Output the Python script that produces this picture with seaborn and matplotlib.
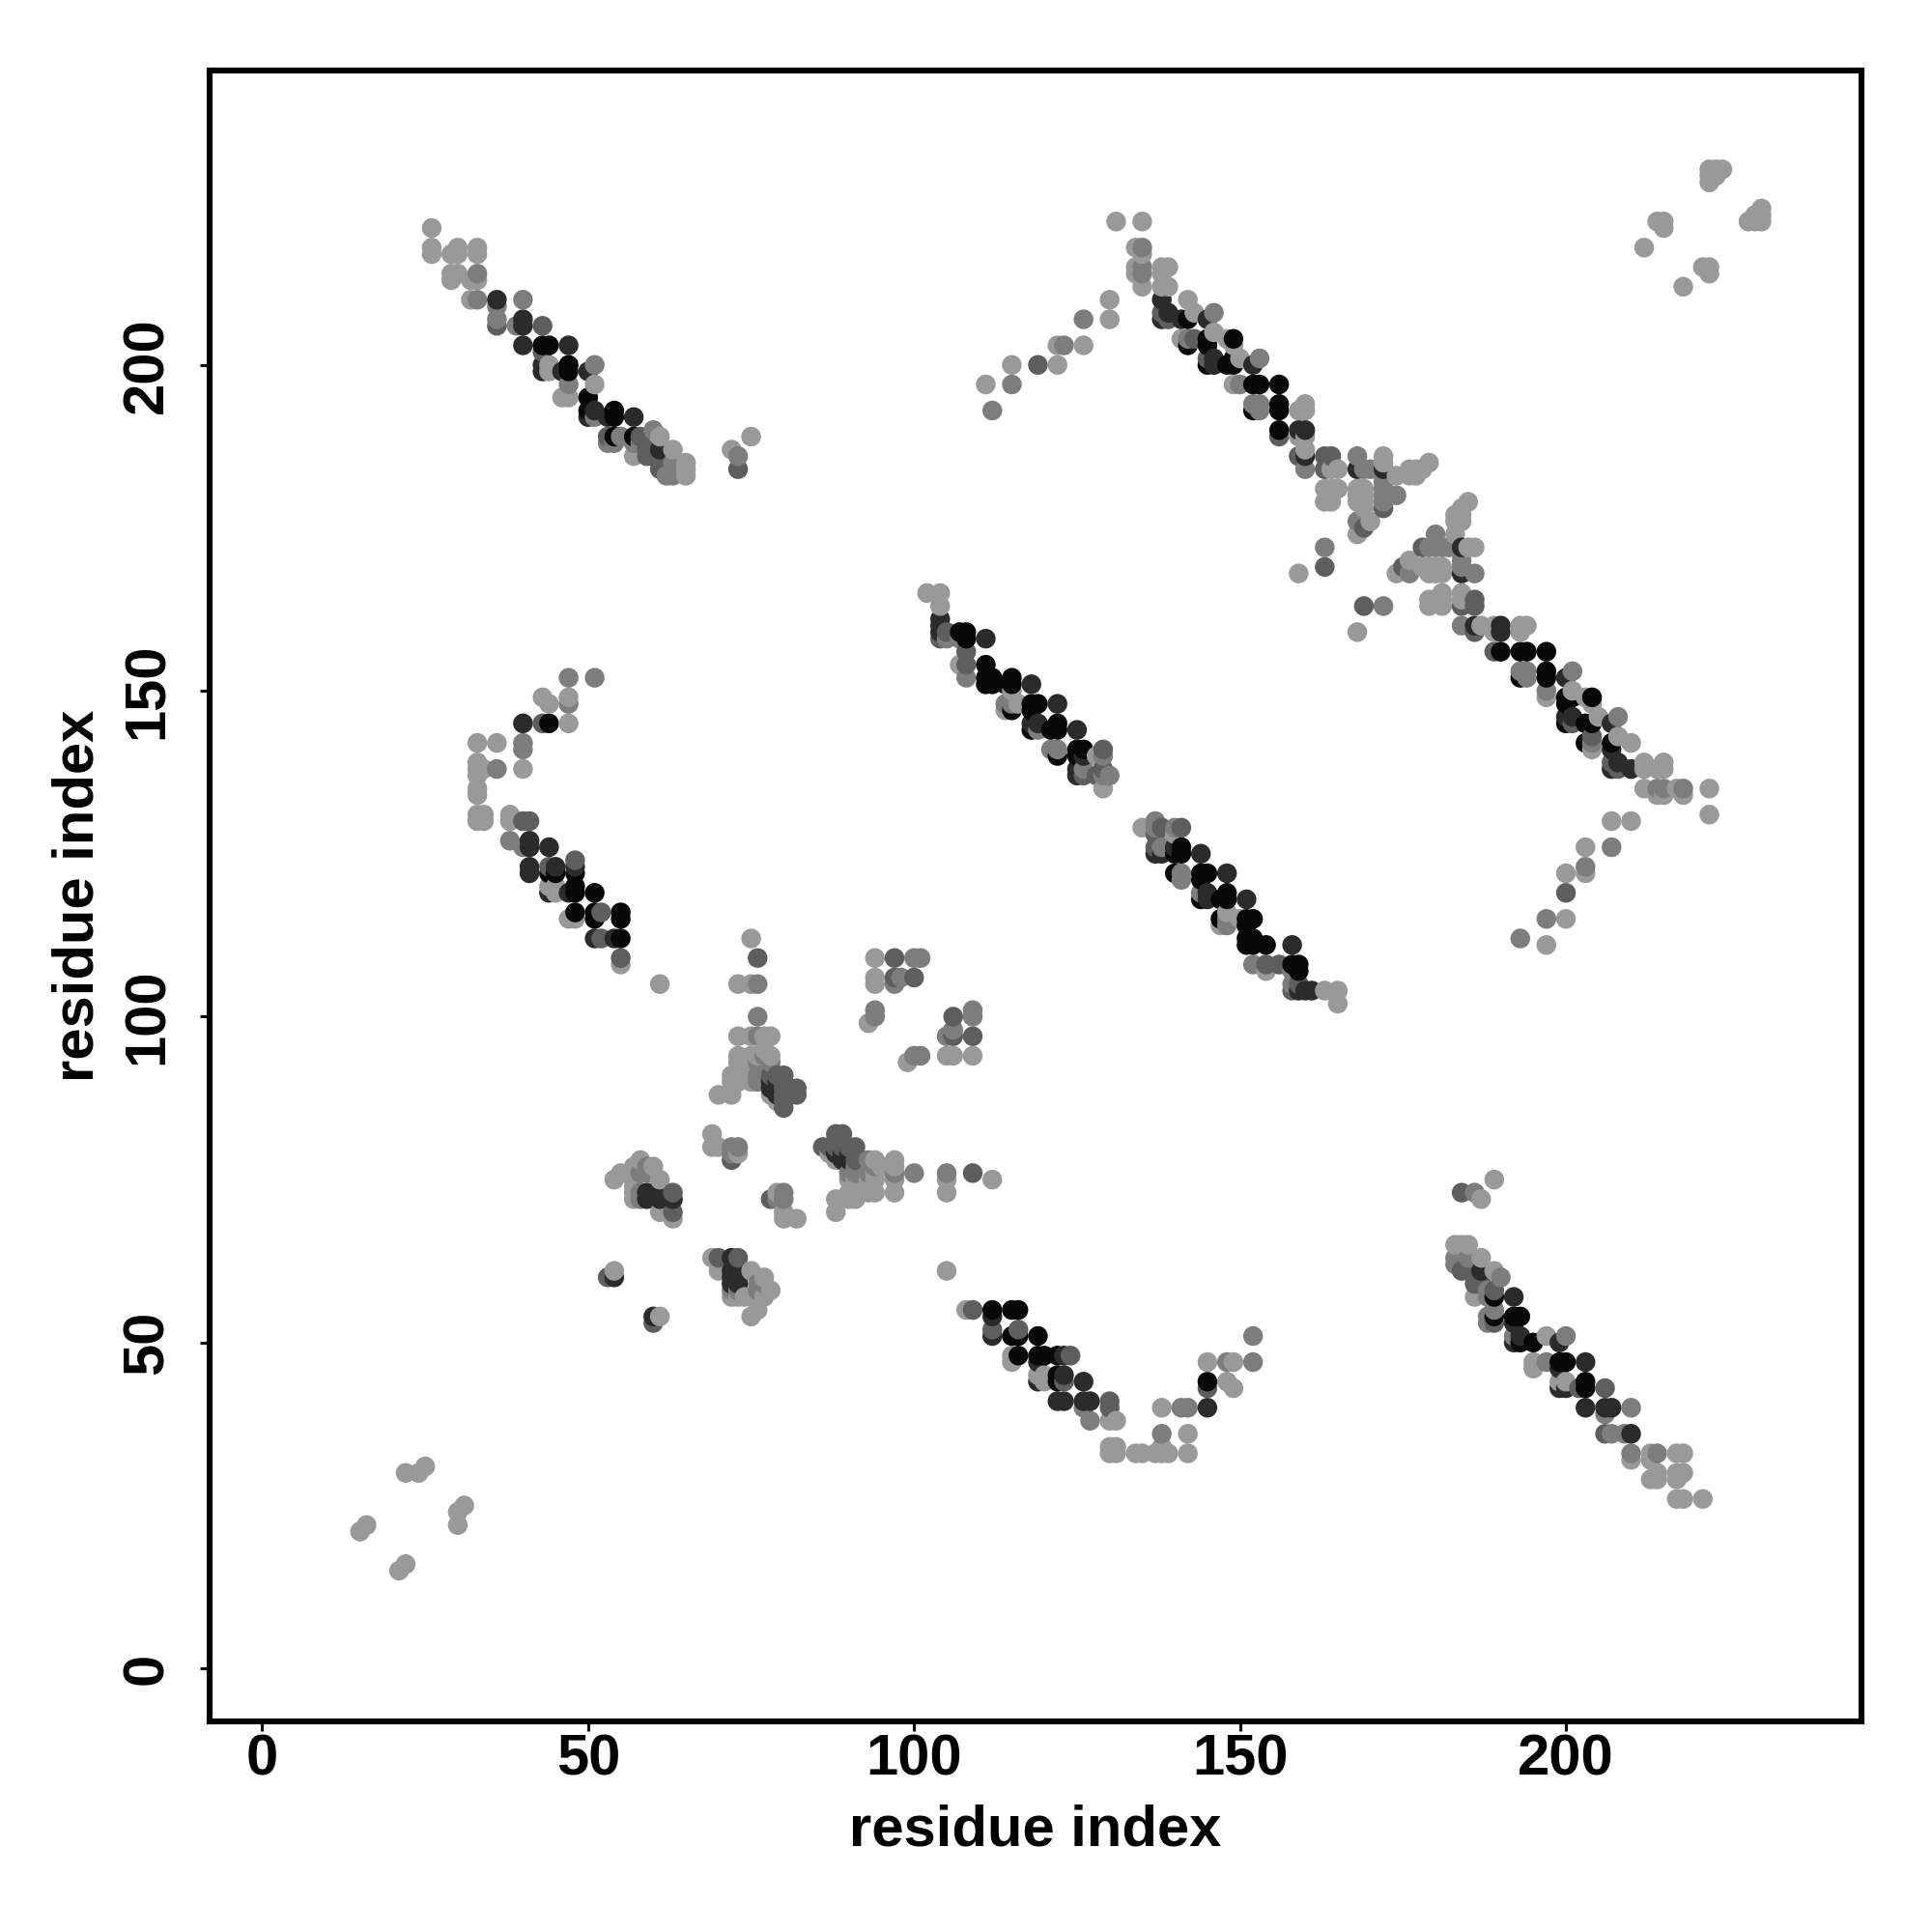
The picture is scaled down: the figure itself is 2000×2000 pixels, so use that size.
import pandas as pd
import numpy as np
import matplotlib
matplotlib.use('Agg')
import matplotlib.pyplot as plt
import seaborn as sns

# contacts as (i, j) with i < j, map is symmetric so the other half is mirrored below
# grouped by the grey level of the dot
light_pairs = [
    (15,21),(16,22),(22,30),(24,30),(25,31),
    (26,221),(26,218),(26,217),(29,217),(30,218),(30,217),(33,218),(33,217),(29,214),(30,214),(29,213),
    (32,213),(33,213),(32,210),(44,200),(44,199),(51,197),(46,195),(47,195),(61,189),(63,187),(57,186),
    (65,185),(65,184),(65,183),(72,187),(75,189),
    (131,222),(135,222),(134,218),(135,217),(134,215),(134,214),(135,212),(138,215),(139,215),(138,214),
    (138,212),(139,212),(130,210),(130,207),(122,203),(126,203),(115,200),(122,200),(111,197),(142,210),
    (143,208),(141,204),(146,205),(148,204),(150,201),(149,203),(149,197),(160,194),(160,193),(159,193),
    (159,189),(160,189),(160,187),(165,184),(164,184),(163,181),(164,181),(165,181),(163,179),(164,179),
    (172,186),(172,185),(174,183),(176,184),(176,183),(177,184),(177,183),(178,184),(179,185),
    (168,181),(169,181),(168,180),(169,180),(168,179),(169,179),(169,178),(170,176),(168,174),(159,168),(168,159),
    (212,218),(214,222),(215,222),(215,221),(222,228),(222,229),(222,230),(223,229),(223,230),(224,230),
    (102,165),(104,165),(104,163),(107,154),(108,154),(116,148),(114,147),(118,147 ),(121,141),(122,140),
    (128,140),(129,135),(135,129),(140,129),(140,128),(147,114),(150,115),(154,107),(163,104),(165,104),(165,102),
    (47,152),(43,149),(44,148),(47,149),(47,145),(33,142),(36,142),(33,139),(33,138),(40,138),(33,137),(33,135),
    (33,134),(33,131),(34,131),(33,130),(34,130),(38,131),(38,130),(40,130),(44,120),(45,120),(45,119),(47,115),
    (48,115),(52,116),(55,108),(61,105),
    (75,112),(73,105),(75,105),(76,105),(76,100),(73,97),(75,97),(76,97),(77,97),(78,97),(73,94),(73,93),(76,94),
    (78,94),(77,95),(72,91),(73,91),(72,90),(73,90),(75,91),(75,90),(70,88),(72,88),(80,86),(79,87),(78,88),
    (69,82),(69,80),(70,80),(73,79),(75,94),(75,93),
    (54,75),(55,76),(57,75),(58,78),(60,77),(61,75),(57,74),(57,73),(57,72),(61,70),(63,70),(63,69),
    (70,61),(75,61),(77,60),(76,59),(78,58),(77,57),(72,57),(73,57),(75,57),(76,55),(75,54),
    (94,109),(94,106),(100,109),(93,99),(94,100),(99,93),(101,94),(105,94),(106,94),(109,94),(100,76),(105,75),(105,73),(112,75),(105,61),
    (93,78),(94,78),(93,76),(94,76),(97,78),(97,77),(97,75),(90,76),(90,75),(91,75),(93,73),(94,73),(91,73),(90,73),(91,72),(90,72),(88,72),(88,70),(97,73),
    (53,60),(54,61),(61,54),
    (108,55),(130,38),(131,38),(130,34),(131,34),(130,33),(131,33),(134,33),(135,33),(137,33),(138,33),(139,33),(138,34),
    (138,36),(142,36),(142,33),(138,40),(145,47),(148,47),(149,47),(148,44),(149,43),
]
mid_pairs = [
    (33,214),(33,210),(36,209),(36,207),(40,210),(39,206),(51,200),(47,197),(53,188),(54,188),(55,189),(60,190),
    (58,188),(57,188),(63,185),(63,183),(62,183),(73,186),(51,192),
    (135,218),(123,203),(115,197),(112,193),(126,207),(146,208),(142,204),(150,197),(152,194),(153,194),(153,193),
    (153,201),(135,215),(135,214),(160,184),(168,186),(169,184),(170,184),(172,183),(172,182),(172,181),(172,180),
    (172,179),(174,180),(168,176),(163,172),(172,163),
    (105,158),(108,156),(115,148),(115,147),(114,148),(119,144),(122,141),(126,138),(129,141),(129,137),(129,140),
    (137,130),(137,129),(138,126),(141,122),(141,121),(148,115),(148,114),(152,108),(156,108),(158,107),(159,108),
    (51,152),(47,148),(40,142),(40,141),(36,138),(41,130),(38,127),(40,126),(44,126),(44,119),(52,112),(55,109),
    (76,109),(76,100),(76,93),(78,93),(72,80),(72,79),(73,80),(76,90),(77,91),(80,88),
    (58,76),(59,77),(59,76),(61,73),(58,73),(58,72),(61,72),(63,73),
    (97,109),(101,109),(97,106),(98,106),(97,105),(94,101),(106,100),(109,101),(109,100),(105,97),(106,98),(109,97),(100,94),(105,76),(109,76),
    (91,78),(90,78),(91,76),(94,77),(97,76),
    (145,44),(141,40),(142,40),(130,41),(130,40),(152,47),(152,51),(112,52),
]
grey_pairs = [
    (36,206),(43,206),(61,185),(61,184),(59,187),(60,187),(59,186),(53,189),(73,184),(43,202),(58,189),
    (138,208),(139,207),(143,204),(145,201),(156,189),(159,186),(163,186),(163,184),(172,178),(163,169),(169,163),(169,175),
    (119,200),(164,186),
    (105,159),(107,159),(104,158),(126,137),(128,137),(125,140),(129,138),(138,129),(141,129),(137,126),(138,125),
    (156,108),(158,104),(159,104),(154,108),(159,108),(100,106),
    (40,130),(41,127),(44,123),(55,112),(52,112),(40,145),(44,122),
    (106,100),(106,97),(109,97),(109,76),(97,109),(100,106),
    (79,91),(80,91),(80,90),(82,89),(82,88),(80,89),(90,80),(91,80),(88,82),(89,82),(72,78),
    (78,91),(88,80),(86,80),(80,87),
    (63,72),(59,73),(54,60),(60,53),(70,63),(73,63),
    (109,55),(112,54),(116,52),(145,43),(124,48),(130,41),
]
dark_pairs = [
    (36,210),(40,207),(40,206),(40,203),(43,199),(43,200),(46,199),(50,199),(50,192),(51,193),(53,192),(57,192),(61,187),(47,203),
    (138,210),(138,207),(139,208),(141,207),(145,207),(146,201),(146,200),(152,200),(159,190),(160,190),(160,186),(168,184),(172,184),
    (104,161),(104,159),(111,158),(118,151),(122,148),(119,145),(118,145),(125,144),(125,138),(125,137),(126,141),
    (144,125),(145,122),(148,122),(145,119),(140,126),(151,118),(158,111),(160,104),(161,104),(144,118),(158,108),
    (40,145),(41,126),(41,123),(45,123),(48,123),(47,119),(51,119),(48,120),(51,112),(54,112),
    (72,63),(72,61),(73,61),(72,59),(73,59),(60,54),
    (78,89),(79,88),(78,90),(79,90),(79,89),(89,79),(88,79),
    (59,72),(60,73),(60,72),
    (116,55),(112,51),(145,40),(126,44),(119,44),(126,41),(122,41),(127,41),(73,60),
]
black_pairs = [
    (43,203),(44,203),(47,200),(47,199),(50,195),(50,193),(54,193),(54,192),(54,189),(57,189),
    (142,207),(142,203),(145,204),(145,203),(145,200),(148,200),(149,204),(149,201),(149,200),(152,197),(153,197),
    (156,197),(152,193),(156,194),(156,193),(156,190),
    (108,159),(108,158),(111,154),(111,152),(111,151),(112,152),(112,151),(114,151),(115,152),(115,151),(118,148),(119,148),
    (118,144),(121,144),(122,145),(122,144),(125,141),(140,125),(141,126),(140,122),(144,122),(147,118),(148,119),(148,118),
    (147,115),(151,115),(152,115),(151,114),(151,112),(151,111),(152,112),(152,111),(154,111),(159,107),
    (44,145),(48,119),(51,116),(51,115),(48,116),(55,112),(55,116),(55,115),
    (112,55),(115,51),(116,51),(119,51),(116,48),(119,48),(120,48),(122,48),(122,45),(122,44),
]
tick_values = [0, 50, 100, 150, 200]
axis_label = 'residue index'

grey_levels = {0.60: light_pairs, 0.49: mid_pairs, 0.37: grey_pairs, 0.17: dark_pairs, 0.03: black_pairs}

rows = []
for level, pairs in grey_levels.items():
    for a, b in pairs:
        rows.append((a, b, level))
        rows.append((b, a, level))
df = pd.DataFrame(rows, columns=['x', 'y', 'level'])
# darker level wins if a contact got listed twice
df = df.sort_values('level').drop_duplicates(['x', 'y'], keep='first').sort_values(['x', 'y'])

sns.set_style('white')
plt.rcParams['font.family'] = ['Liberation Sans', 'DejaVu Sans']
plt.rcParams['font.weight'] = 'bold'

fig = plt.figure(figsize=(10, 10), dpi=200)
ax = fig.add_axes([0.1084, 0.1091, 0.8553, 0.8545])
palette = {lv: str(lv) for lv in grey_levels}
sns.scatterplot(data=df, x='x', y='y', hue='level', palette=palette, legend=False,
                s=54, linewidth=0, ax=ax)
ax.set_xlim(-8.1, 245.4)
ax.set_ylim(-8.1, 245.2)
ax.set_xticks(tick_values)
ax.set_yticks(tick_values)
ax.tick_params(axis='both', length=3.6, width=1.1, color='black', labelcolor='black', labelsize=21.5, direction='out', bottom=True, left=True)
ax.tick_params(axis='x', pad=1)
ax.tick_params(axis='y', labelrotation=90, pad=9.5)
for lab in ax.get_yticklabels():
    lab.set_va('center')
ax.set_xlabel(axis_label, fontsize=21.5, fontweight='bold', color='black', va='center')
ax.set_ylabel(axis_label, fontsize=21.5, fontweight='bold', color='black', va='center')
ax.xaxis.set_label_coords(0.5, -0.066)
ax.yaxis.set_label_coords(-0.0795, 0.5)
for s in ax.spines.values():
    s.set_linewidth(2.2)
    s.set_color('black')
fig.savefig('out.png', dpi=200)
